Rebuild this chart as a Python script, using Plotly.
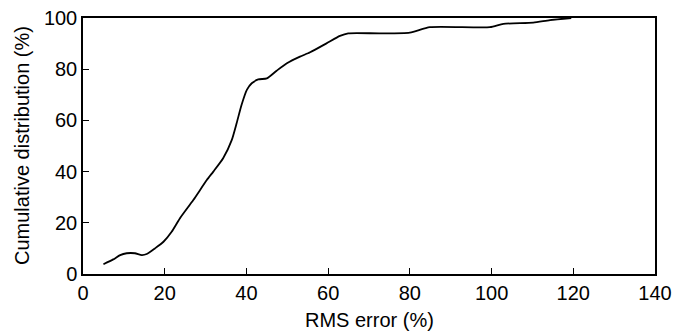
import plotly.graph_objects as go

rms_error = [5.0, 7.4, 9.1, 10.7, 12.7, 14.4, 15.6, 17.6, 19.7, 21.7, 23.7, 27.0, 30.3, 31.9,
             34.3, 36.4, 37.6, 38.8, 40.1, 41.3, 42.9, 45.0, 47.4, 49.9, 53.1, 55.6, 59.6,
             62.9, 64.9, 72.7, 80.0, 84.9, 99.6, 102.9, 110.2, 114.3, 119.5]
cum_dist = [3.8, 5.7, 7.4, 8.1, 8.1, 7.4, 7.8, 10.0, 12.6, 16.5, 21.7, 28.9, 36.7, 40.0,
            45.2, 52.3, 58.9, 66.0, 71.9, 74.5, 76.0, 76.4, 79.4, 82.3, 84.9, 86.6, 90.1,
            93.0, 94.0, 94.0, 94.3, 96.4, 96.4, 97.7, 98.2, 99.2, 100.0]

x_ticks = [0, 20, 40, 60, 80, 100, 120, 140]
y_ticks = [0, 20, 40, 60, 80, 100]

fig = go.Figure(go.Scatter(x=rms_error, y=cum_dist, mode="lines",
                           line=dict(color="black", width=1.8, shape="spline", smoothing=0.6),
                           showlegend=False, cliponaxis=False))

fam = "Liberation Sans, Arial, sans-serif"
tickfont = dict(family=fam, size=20, color="black")
titlefont = dict(family=fam, size=20, color="black")
fig.update_layout(
    width=675, height=325,
    margin=dict(l=75, r=28, t=10, b=59),
    paper_bgcolor="white", plot_bgcolor="white",
    font=tickfont,
    xaxis=dict(range=[0, 140], tickvals=x_ticks, ticks="inside", ticklen=6, tickwidth=1.3,
               tickcolor="black", showline=True, linecolor="black", linewidth=1.5, mirror=True,
               showgrid=False, zeroline=False, automargin=False, tickfont=tickfont,
               ticklabeloverflow="allow"),
    yaxis=dict(range=[0, 100], tickvals=y_ticks, ticks="inside", ticklen=6, tickwidth=1.3,
               tickcolor="black", showline=True, linecolor="black", linewidth=1.5, mirror=True,
               showgrid=False, zeroline=False, automargin=False, tickfont=tickfont,
               ticklabeloverflow="allow"),
    annotations=[
        dict(text="RMS error (%)", xref="paper", yref="paper", x=0.5, y=0,
             xanchor="center", yanchor="middle", yshift=-46, showarrow=False, font=titlefont),
        dict(text="Cumulative distribution (%)", xref="paper", yref="paper", x=0, y=0.5,
             xanchor="center", yanchor="middle", xshift=-61, textangle=-90,
             showarrow=False, font=titlefont),
    ],
)
fig.write_html("out.html")
